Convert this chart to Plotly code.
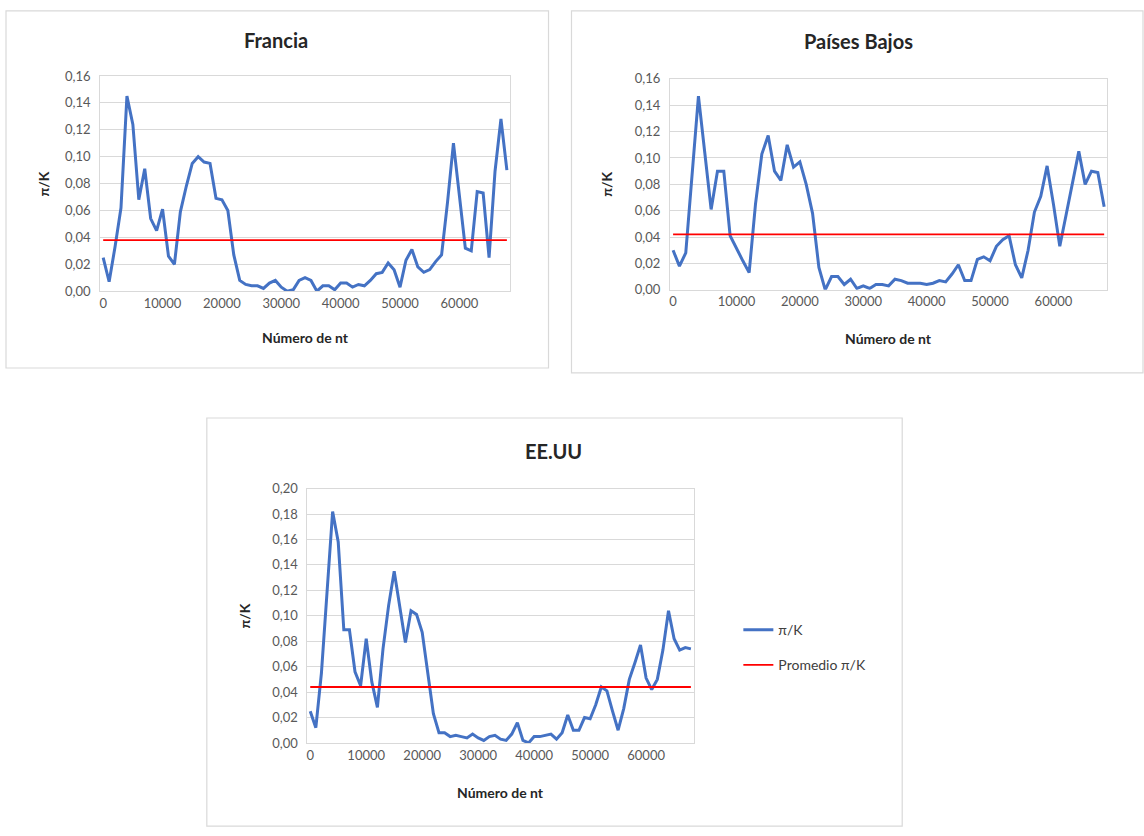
import plotly.graph_objects as go

# ---------------- data ----------------
nt = [0, 1000, 2000, 3000, 4000, 5000, 6000, 7000, 8000, 9000,
      10000, 11000, 12000, 13000, 14000, 15000, 16000, 17000, 18000, 19000,
      20000, 21000, 22000, 23000, 24000, 25000, 26000, 27000, 28000, 29000,
      30000, 31000, 32000, 33000, 34000, 35000, 36000, 37000, 38000, 39000,
      40000, 41000, 42000, 43000, 44000, 45000, 46000, 47000, 48000, 49000,
      50000, 51000, 52000, 53000, 54000, 55000, 56000, 57000, 58000, 59000,
      60000, 61000, 62000, 63000, 64000, 65000, 66000, 67000, 68000]

francia = [0.025, 0.007, 0.033, 0.062, 0.145, 0.124, 0.068, 0.091, 0.054, 0.045,
           0.061, 0.026, 0.020, 0.059, 0.078, 0.095, 0.100, 0.096, 0.095, 0.069,
           0.068, 0.060, 0.027, 0.008, 0.005, 0.004, 0.004, 0.002, 0.006, 0.008,
           0.003, 0.000, 0.001, 0.008, 0.010, 0.008, 0.000, 0.004, 0.004, 0.001,
           0.006, 0.006, 0.003, 0.005, 0.004, 0.008, 0.013, 0.014, 0.021, 0.016,
           0.003, 0.023, 0.031, 0.018, 0.014, 0.016, 0.022, 0.027, 0.066, 0.110,
           0.071, 0.032, 0.030, 0.074, 0.073, 0.025, 0.089, 0.128, 0.090]

paises_bajos = [0.030, 0.018, 0.028, 0.088, 0.147, 0.104, 0.061, 0.090, 0.090, 0.041,
                0.031, 0.022, 0.013, 0.065, 0.103, 0.117, 0.090, 0.083, 0.110, 0.093,
                0.097, 0.080, 0.058, 0.017, 0.000, 0.010, 0.010, 0.004, 0.008, 0.001,
                0.003, 0.001, 0.004, 0.004, 0.003, 0.008, 0.007, 0.005, 0.005, 0.005,
                0.004, 0.005, 0.007, 0.006, 0.012, 0.019, 0.007, 0.007, 0.023, 0.025,
                0.022, 0.033, 0.038, 0.041, 0.019, 0.009, 0.030, 0.059, 0.071, 0.094,
                0.065, 0.033, 0.057, 0.081, 0.105, 0.080, 0.090, 0.089, 0.063]

eeuu = [0.025, 0.012, 0.055, 0.118, 0.182, 0.158, 0.089, 0.089, 0.056, 0.045,
        0.082, 0.048, 0.028, 0.074, 0.108, 0.135, 0.105, 0.079, 0.104, 0.101,
        0.087, 0.056, 0.023, 0.008, 0.008, 0.005, 0.006, 0.005, 0.004, 0.007,
        0.004, 0.002, 0.005, 0.006, 0.003, 0.002, 0.007, 0.016, 0.002, 0.000,
        0.005, 0.005, 0.006, 0.007, 0.003, 0.008, 0.022, 0.010, 0.010, 0.020,
        0.019, 0.030, 0.044, 0.041, 0.025, 0.010, 0.027, 0.050, 0.063, 0.077,
        0.051, 0.042, 0.050, 0.073, 0.104, 0.082, 0.073, 0.075, 0.074]

promedio_francia = 0.038
promedio_paises_bajos = 0.042
promedio_eeuu = 0.044

titles = ["Francia", "Países Bajos", "EE.UU"]
x_tick_vals = [0, 10000, 20000, 30000, 40000, 50000, 60000]
x_tick_text = ["0", "10000", "20000", "30000", "40000", "50000", "60000"]
y_ticks_small = [0, 0.02, 0.04, 0.06, 0.08, 0.10, 0.12, 0.14, 0.16]
y_ticks_big = [0, 0.02, 0.04, 0.06, 0.08, 0.10, 0.12, 0.14, 0.16, 0.18, 0.20]
series_name = "π/K"
avg_name = "Promedio π/K"
x_title = "Número de nt"

# ---------------- layout helpers ----------------
W, H = 1144, 836
FONT = "Lato, 'Open Sans', sans-serif"
BLUE = "#4472C4"
RED = "#FF0000"
GRID = "#D9D9D9"
TICK = "#595959"
DARK = "#262626"


def fx(px):
    return px / W


def fy(py):
    return 1 - py / H


panels = [
    dict(plot=(99.3, 69.3, 509.3, 288.7), box=(5, 3, 548, 367), title=(275, 33),
         ytitle_x=43, xtitle_y=336, ymax=0.16, yt=y_ticks_small,
         y=francia, avg=promedio_francia, legend=False),
    dict(plot=(669.5, 72.3, 1107.3, 287.3), box=(571, 3, 1143, 372), title=(858, 34),
         ytitle_x=606, xtitle_y=337, ymax=0.16, yt=y_ticks_small,
         y=paises_bajos, avg=promedio_paises_bajos, legend=False),
    dict(plot=(306.7, 490.0, 693.3, 749.3), box=(206, 418, 902, 834), title=(553, 452),
         ytitle_x=244, xtitle_y=800, ymax=0.20, yt=y_ticks_big,
         y=eeuu, avg=promedio_eeuu, legend=True),
]

fig = go.Figure()
shapes = []
annotations = []
layout_axes = {}

for i, p in enumerate(panels):
    n = "" if i == 0 else str(i + 1)
    xa, ya = "x" + n, "y" + n
    l, t, r, b = p["plot"]

    fig.add_trace(go.Scatter(
        x=nt, y=p["y"], mode="lines", name=series_name,
        line=dict(color=BLUE, width=3), xaxis=xa, yaxis=ya,
        showlegend=p["legend"], legendgroup="a"))
    fig.add_trace(go.Scatter(
        x=[nt[0], nt[-1]], y=[p["avg"], p["avg"]], mode="lines", name=avg_name,
        line=dict(color=RED, width=1.8), xaxis=xa, yaxis=ya,
        showlegend=p["legend"], legendgroup="b"))

    layout_axes["xaxis" + n] = dict(
        domain=[fx(l), fx(r)], range=[-500, 68500], anchor=ya,
        tickvals=x_tick_vals, ticktext=x_tick_text, showgrid=False,
        zeroline=False, showline=True, linecolor=GRID, mirror=True,
        ticks="", tickfont=dict(family=FONT, size=13, color=TICK))
    layout_axes["yaxis" + n] = dict(
        domain=[fy(b), fy(t)], range=[0, p["ymax"]], anchor=xa,
        tickvals=p["yt"], tickformat=".2f", showgrid=True, gridcolor=GRID,
        gridwidth=1.3, zeroline=False, showline=True, linecolor=GRID,
        mirror=True, ticks="", ticklabelstandoff=6,
        tickfont=dict(family=FONT, size=13, color=TICK))

    bl, bt, br, bb = p["box"]
    shapes.append(dict(type="rect", xref="paper", yref="paper",
                       x0=fx(bl), x1=fx(br), y0=fy(bb), y1=fy(bt),
                       line=dict(color="#D9D9D9", width=1.2), layer="below"))

    annotations.append(dict(text="<b>" + titles[i] + "</b>", xref="paper", yref="paper",
                            x=fx(p["title"][0]), y=fy(p["title"][1]),
                            xanchor="center", yanchor="middle", showarrow=False,
                            font=dict(family=FONT, size=20, color=DARK)))
    annotations.append(dict(text="<b>" + series_name + "</b>", xref="paper", yref="paper",
                            x=fx(p["ytitle_x"]), y=fy((t + b) / 2), textangle=-90,
                            xanchor="center", yanchor="middle", showarrow=False,
                            font=dict(family=FONT, size=14, color=DARK)))
    annotations.append(dict(text="<b>" + x_title + "</b>", xref="paper", yref="paper",
                            x=fx((l + r) / 2), y=fy(p["xtitle_y"]),
                            xanchor="center", yanchor="middle", showarrow=False,
                            font=dict(family=FONT, size=14, color=DARK)))

fig.update_layout(
    width=W, height=H, margin=dict(l=0, r=0, t=0, b=0),
    paper_bgcolor="white", plot_bgcolor="white",
    separators=",.",
    shapes=shapes, annotations=annotations,
    showlegend=True,
    legend=dict(x=fx(738), y=fy(618), xanchor="left", yanchor="top",
                font=dict(family=FONT, size=14, color="#404040"),
                tracegroupgap=14, bgcolor="rgba(0,0,0,0)"),
    **layout_axes,
)

fig.write_html("out.html", config={"displayModeBar": False},
               post_script="document.body.style.margin='0';")
